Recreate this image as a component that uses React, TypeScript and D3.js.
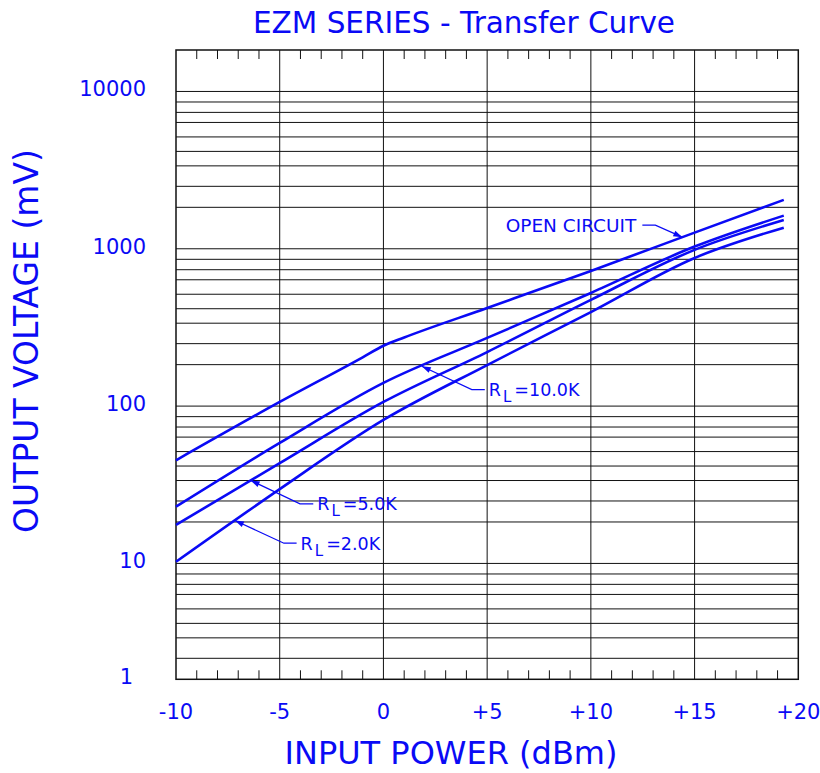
import React from "react";
import * as d3 from "d3";

// input power (dBm) sample points
const dbmOpen = [-10, -5, -1, 0, 1, 5, 10, 15, 19.3];
const dbm = [-10, -5, 0, 5, 10, 15, 19.3];
// output voltage (mV)
const openCircuit = [54, 110, 235, 290, 330, 505, 788, 1390, 2356];
const rl10k = [27.3, 66, 156, 328, 609, 1053, 1800];
const rl5k = [19.3, 52, 110, 260, 561, 990, 1695];
const rl2k = [10.4, 35.8, 86.8, 199, 477, 913, 1510];

const xTicks = [-10, -5, 0, 5, 10, 15, 20];
const xTickLabels = ["-10", "-5", "0", "+5", "+10", "+15", "+20"];
const yTicks = [1, 10, 100, 1000, 10000];
const yTickLabels = ["1", "10", "100", "1000", "10000"];

const series = [
  { name: "OPEN CIRCUIT", xs: dbmOpen, values: openCircuit },
  { name: "10.0K", xs: dbm, values: rl10k },
  { name: "5.0K", xs: dbm, values: rl5k },
  { name: "2.0K", xs: dbm, values: rl2k },
];

const width = 820;
const height = 773;
const blue = "#0a0af5";
const font = "'DejaVu Sans', Verdana, sans-serif";

// the paper's minor divisions inside one decade are not true log spacing
const mantissas = [1, 2, 3, 4, 5, 6, 7, 8, 9, 10];
const mantissaPos = [0, 0.2635, 0.397, 0.527, 0.619, 0.711, 0.803, 0.867, 0.933, 1];
const warp = d3.scaleLinear().domain(mantissas).range(mantissaPos);
const paper = (v: number) => {
  const k = Math.floor(Math.log10(v) + 1e-9);
  return k + warp(v / Math.pow(10, k));
};

export default function App() {
  const margin = { left: 176, right: 798.3, top: 50, bottom: 679.3 };
  const x = d3.scaleLinear().domain([-10, 20]).range([margin.left, margin.right]);
  const yPaper = d3
    .scaleLinear()
    .domain([paper(2), paper(20000)])
    .range([margin.bottom, margin.top])
    .clamp(true);
  const y = (v: number) => yPaper(v < 2 ? 0 : paper(v));

  const line = d3
    .line<[number, number]>()
    .x((d) => x(d[0]))
    .y((d) => y(d[1]))
    .curve(d3.curveMonotoneX);

  const hLines: number[] = [];
  [1, 10, 100, 1000, 10000].forEach((dec) => {
    mantissas.forEach((m) => {
      const v = dec * m;
      if (v >= 3 && v <= 10000) hLines.push(v);
    });
  });
  const uniqH = Array.from(new Set(hLines));
  const minorX = d3.range(-10, 21, 1).filter((d) => d % 5 !== 0);
  const majorX = [-5, 0, 5, 10, 15];

  // point on a curve (pixel space) at a given dBm
  const pointAt = (xs: number[], vals: number[], d: number) => {
    const i = Math.max(1, d3.bisectLeft(xs, d));
    const t = (d - xs[i - 1]) / (xs[i] - xs[i - 1]);
    const y0 = y(vals[i - 1]);
    const y1 = y(vals[i]);
    return [x(d), y0 + (y1 - y0) * t];
  };

  const notes = [
    { s: 0, at: 14.41, knee: [-27, -12], end: [-40, -12], sub: "", ty: -5 },
    { s: 1, at: 1.85, knee: [50, 23.4], end: [63, 23.4], sub: "10.0K", ty: 30 },
    { s: 2, at: -6.4, knee: [49.3, 23.4], end: [62.6, 23.4], sub: "5.0K", ty: 30 },
    { s: 3, at: -7.16, knee: [49, 22.7], end: [61.7, 22.7], sub: "2.0K", ty: 30 },
  ];

  return (
    <svg
      width={width}
      height={height}
      style={{ position: "absolute", left: 0, top: 0, background: "#fff" }}
      fontFamily={font}
    >
      <text x={464} y={33} textAnchor="middle" fontSize={29.5} fill={blue}>
        EZM SERIES - Transfer Curve
      </text>

      {uniqH.map((v) => (
        <line key={"h" + v} x1={margin.left} x2={margin.right} y1={y(v)} y2={y(v)} stroke="#111" strokeWidth={1} />
      ))}
      {majorX.map((d) => (
        <line key={"v" + d} x1={x(d)} x2={x(d)} y1={margin.top} y2={margin.bottom} stroke="#111" strokeWidth={1} />
      ))}
      {minorX.map((d) => (
        <g key={"m" + d}>
          <line x1={x(d)} x2={x(d)} y1={margin.top} y2={margin.top + 9} stroke="#111" />
          <line x1={x(d)} x2={x(d)} y1={margin.bottom - 9} y2={margin.bottom} stroke="#111" />
        </g>
      ))}
      <rect
        x={margin.left}
        y={margin.top}
        width={margin.right - margin.left}
        height={margin.bottom - margin.top}
        fill="none"
        stroke="#111"
        strokeWidth={1.5}
      />

      {series.map((s) => (
        <path
          key={s.name}
          d={line(s.xs.map((d, i) => [d, s.values[i]] as [number, number])) || ""}
          fill="none"
          stroke={blue}
          strokeWidth={2.6}
        />
      ))}

      {notes.map((n, i) => {
        const sr = series[n.s];
        const [px, py] = pointAt(sr.xs, sr.values, n.at);
        const kx = px + n.knee[0];
        const ky = py + n.knee[1];
        const ang = Math.atan2(ky - py, kx - px);
        const hl = 9;
        const hw = 3;
        const bx = px + Math.cos(ang) * hl;
        const by = py + Math.sin(ang) * hl;
        const head = `M${px},${py} L${bx - Math.sin(ang) * hw},${by + Math.cos(ang) * hw} L${bx + Math.sin(ang) * hw},${by - Math.cos(ang) * hw} Z`;
        return (
          <g key={"n" + i}>
            <path d={`M${px + n.end[0]},${py + n.end[1]} L${kx},${ky} L${px},${py}`} fill="none" stroke={blue} strokeWidth={1.2} />
            <path d={head} fill={blue} />
            {n.sub ? (
              <text x={px + n.end[0] + 4} y={py + n.ty} fontSize={17.5} fill={blue}>
                R
                <tspan dx={2} dy={6} fontSize={15}>L</tspan>
                <tspan dx={3} dy={-6}>={n.sub}</tspan>
              </text>
            ) : (
              <text x={px + n.end[0] - 6} y={py + n.ty} fontSize={18.5} fill={blue} textAnchor="end">
                {sr.name}
              </text>
            )}
          </g>
        );
      })}

      {yTicks.map((v, i) => (
        <text key={"yl" + v} x={v === 1 ? 133 : 146} y={y(v) + 5} textAnchor="end" fontSize={21} fill={blue}>
          {yTickLabels[i]}
        </text>
      ))}
      {xTicks.map((d, i) => (
        <text key={"xl" + d} x={x(d)} y={719} textAnchor="middle" fontSize={21} fill={blue}>
          {xTickLabels[i]}
        </text>
      ))}

      <text x={451} y={764} textAnchor="middle" fontSize={32} fill={blue}>
        INPUT POWER (dBm)
      </text>
      <text transform="translate(38,341) rotate(-90)" textAnchor="middle" fontSize={33} fill={blue}>
        OUTPUT VOLTAGE (mV)
      </text>
    </svg>
  );
}
